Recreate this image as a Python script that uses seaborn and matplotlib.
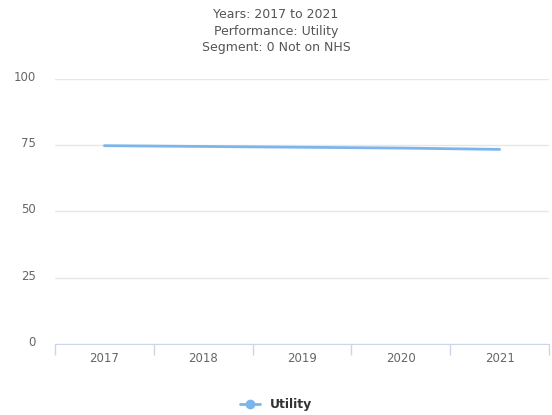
import numpy as np
import pandas as pd
import matplotlib
matplotlib.use('Agg')
import matplotlib.pyplot as plt
import matplotlib.transforms as mtransforms
from matplotlib.lines import Line2D
import seaborn as sns

sns.set_style('white')
plt.rcParams['font.family'] = ['DejaVu Sans']

years = ['2017', '2018', '2019', '2020', '2021']
utility = [74.8, 74.5, 74.2, 73.9, 73.4]
y_ticks = [0, 25, 50, 75, 100]

df = pd.DataFrame({'pos': np.arange(len(years)), 'Utility': utility})

fig = plt.figure(figsize=(5.52, 4.15), dpi=100)
ax = fig.add_axes([0.0996, 0.171, 0.895, 0.639])

sns.lineplot(data=df, x='pos', y='Utility', ax=ax, color='#7cb5ec', linewidth=2)

ax.set_xlim(-0.5, len(years) - 0.5)
ax.set_ylim(0, 100)
ax.set_yticks(y_ticks)
ax.set_yticklabels([str(v) for v in y_ticks], color='#666666', fontsize=8.5)
ax.set_xticks(np.arange(len(years)))
ax.set_xticklabels(years, color='#666666', fontsize=8.5)
ax.set_xticks(np.arange(-0.5, len(years)), minor=True)
ax.tick_params(axis='x', which='major', bottom=True, length=0, pad=6)
ax.tick_params(axis='x', which='minor', bottom=True, length=8, color='#ccd6eb', width=1)
ax.tick_params(axis='y', left=True, length=0, pad=14)
shift = mtransforms.ScaledTranslation(0, 3 / 100, fig.dpi_scale_trans)
for lbl in ax.get_yticklabels():
    lbl.set_transform(lbl.get_transform() + shift)
ax.grid(axis='y', color='#e6e6e6', linewidth=1)
ax.set_axisbelow(True)
for s in ['top', 'right', 'left']:
    ax.spines[s].set_visible(False)
ax.spines['bottom'].set_color('#ccd6eb')
ax.set_xlabel('')
ax.set_ylabel('')

fig.text(0.5, 0.98, 'Years: 2017 to 2021\nPerformance: Utility\nSegment: 0 Not on NHS',
         ha='center', va='top', fontsize=9, color='#555555', linespacing=1.35)

handle = Line2D([0], [0], color='#7cb5ec', linewidth=2, marker='o', markersize=6)
leg = fig.legend([handle], ['Utility'], loc='center', bbox_to_anchor=(0.5, 0.025),
                 frameon=False, handlelength=1.6, prop={'weight': 'bold', 'size': 9})
for t in leg.get_texts():
    t.set_color('#333333')

fig.savefig('out.png', dpi=100)
